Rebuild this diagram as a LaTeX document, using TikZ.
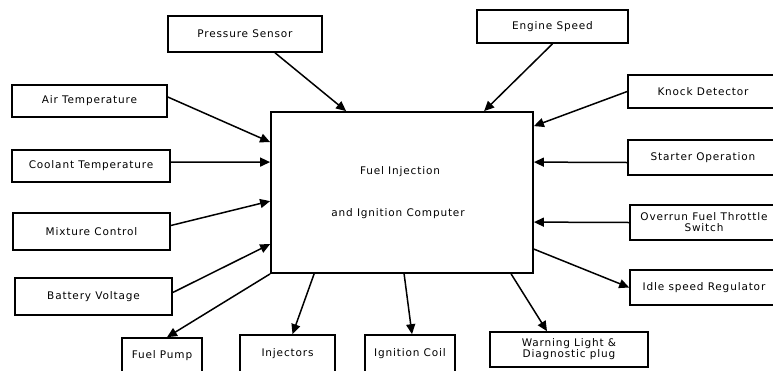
\documentclass[tikz,border=0pt]{standalone}
\usepackage{fontspec}
\setmainfont{DejaVu Sans}[LetterSpace=8]
\usetikzlibrary{arrows.meta}
\begin{document}
\begin{tikzpicture}[x=1pt,y=-1pt,
  box/.style={draw,line width=1.6pt,rectangle,inner sep=1pt,align=center,
    font=\fontsize{10.5}{11}\selectfont},
  conn/.style={line width=1.5pt,-{Triangle[length=10pt,width=9pt]}}]
\useasboundingbox (0,0) rectangle (773,370);
% central computer
\node[draw,line width=1.8pt,minimum width=262pt,minimum height=161pt,inner sep=0pt] (cpu) at (402,192.5) {};
\node[font=\fontsize{10.5}{11}\selectfont] (t1) at (400,172) {Fuel Injection};
\node[font=\fontsize{10.5}{11}\selectfont] (t2) at (398,214) {and Ignition Computer};
% boxes
\node[box,minimum width=154pt,minimum height=36pt] (press) at (245,34) {Pressure Sensor};
\node[box,minimum width=151pt,minimum height=33pt] (eng) at (552.5,26.5) {Engine Speed};
\node[box,minimum width=155pt,minimum height=32pt] (air) at (89.5,101) {Air Temperature};
\node[box,minimum width=158pt,minimum height=32pt] (cool) at (91,166) {Coolant Temperature};
\node[box,minimum width=157pt,minimum height=37pt] (mix) at (91.5,231.5) {Mixture Control};
\node[box,minimum width=157pt,minimum height=37pt] (batt) at (93.5,296.5) {Battery Voltage};
\node[box,minimum width=150pt,minimum height=33pt] (knock) at (703,91.5) {Knock Detector};
\node[box,minimum width=150pt,minimum height=35pt] (start) at (703,157.5) {Starter Operation};
\node[box,minimum width=148pt,minimum height=35pt,font=\fontsize{10.5}{11}\selectfont] (over) at (704,222.5) {Overrun Fuel Throttle\\Switch};
\node[box,minimum width=148pt,minimum height=35pt] (idle) at (704,287.5) {Idle speed Regulator};
\node[box,minimum width=80pt,minimum height=36pt] (pump) at (162,356) {Fuel Pump};
\node[box,minimum width=95pt,minimum height=38pt] (inj) at (287.5,354) {Injectors};
\node[box,minimum width=90pt,minimum height=38pt] (coil) at (410,354) {Ignition Coil};
\node[box,minimum width=158pt,minimum height=35pt,font=\fontsize{10.5}{11}\selectfont] (warn) at (569,349.5) {Warning Light \&\\Diagnostic plug};
% connectors in
\draw[conn] ([xshift=30pt]press.south) -- ([xshift=76pt]cpu.north west);
\draw[conn] (eng.south) -- ([xshift=214pt]cpu.north west);
\draw[conn] ([yshift=4pt]air.east) -- ([yshift=-31pt]cpu.north west);
\draw[conn] ([yshift=4pt]cool.east) -- ([yshift=-51pt]cpu.north west);
\draw[conn] ([yshift=6pt]mix.east) -- ([yshift=-90pt]cpu.north west);
\draw[conn] ([yshift=4pt]batt.east) -- ([yshift=-133pt]cpu.north west);
\draw[conn] (knock.west) -- ([yshift=-15pt]cpu.north east);
\draw[conn] ([yshift=-5pt]start.west) -- ([yshift=-51pt]cpu.north east);
\draw[conn] (over.west) -- ([yshift=-111pt]cpu.north east);
% connectors out
\draw[conn] ([yshift=-138pt]cpu.north east) -- (idle.west);
\draw[conn] (cpu.south west) -- ([xshift=5pt]pump.north);
\draw[conn] ([xshift=44pt]cpu.south west) -- ([xshift=5pt]inj.north);
\draw[conn] ([xshift=134pt]cpu.south west) -- ([xshift=2pt]coil.north);
\draw[conn] ([xshift=241pt]cpu.south west) -- ([xshift=-22pt]warn.north);
\end{tikzpicture}
\end{document}
